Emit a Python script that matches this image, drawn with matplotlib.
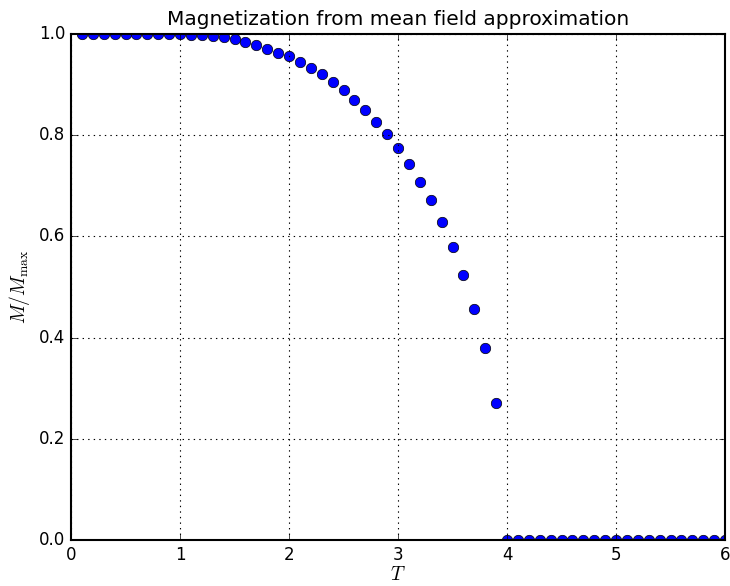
import numpy as np
import matplotlib
matplotlib.use("Agg")
import matplotlib.pyplot as plt

# temperatures 0.1 ... 6.0 and magnetization
T = [0.1, 0.2, 0.3, 0.4, 0.5, 0.6, 0.7, 0.8, 0.9, 1.0,
     1.1, 1.2, 1.3, 1.4, 1.5, 1.6, 1.7, 1.8, 1.9, 2.0,
     2.1, 2.2, 2.3, 2.4, 2.5, 2.6, 2.7, 2.8, 2.9, 3.0,
     3.1, 3.2, 3.3, 3.4, 3.5, 3.6, 3.7, 3.8, 3.9, 4.0,
     4.1, 4.2, 4.3, 4.4, 4.5, 4.6, 4.7, 4.8, 4.9, 5.0,
     5.1, 5.2, 5.3, 5.4, 5.5, 5.6, 5.7, 5.8, 5.9, 6.0]
M = [1.0, 1.0, 1.0, 1.0, 1.0, 1.0, 1.0, 1.0, 0.9999, 0.9993,
     0.9986, 0.9975, 0.9957, 0.9931, 0.9895, 0.9845, 0.978, 0.970, 0.962, 0.957,
     0.945, 0.933, 0.920, 0.905, 0.889, 0.870, 0.850, 0.827, 0.802, 0.775,
     0.744, 0.708, 0.671, 0.628, 0.579, 0.524, 0.457, 0.379, 0.270, 0.0,
     0.0, 0.0, 0.0, 0.0, 0.0, 0.0, 0.0, 0.0, 0.0, 0.0,
     0.0, 0.0, 0.0, 0.0, 0.0, 0.0, 0.0, 0.0, 0.0, 0.0]

plt.style.use('classic')
plt.rcParams['mathtext.fontset'] = 'cm'

fig = plt.figure(figsize=(7.3, 5.86), dpi=100, facecolor='white')
ax = fig.add_axes([0.0973, 0.0785, 0.8959, 0.8635])

ax.plot(T, M, 'bo', markersize=7.5, markeredgewidth=0.5)
ax.set_xlim(0, 6)
ax.set_ylim(0, 1)
ax.grid(True, color='k', linestyle=':', linewidth=0.8)
for s in ax.spines.values():
    s.set_linewidth(1.5)
ax.set_title('Magnetization from mean field approximation', fontsize=14.5, y=1.005)
ax.set_xlabel('$T$', fontsize=14, labelpad=1)
ax.set_ylabel(r'$M/M_{\max}$', fontsize=14)

fig.savefig('out.png', dpi=100, facecolor='white')
